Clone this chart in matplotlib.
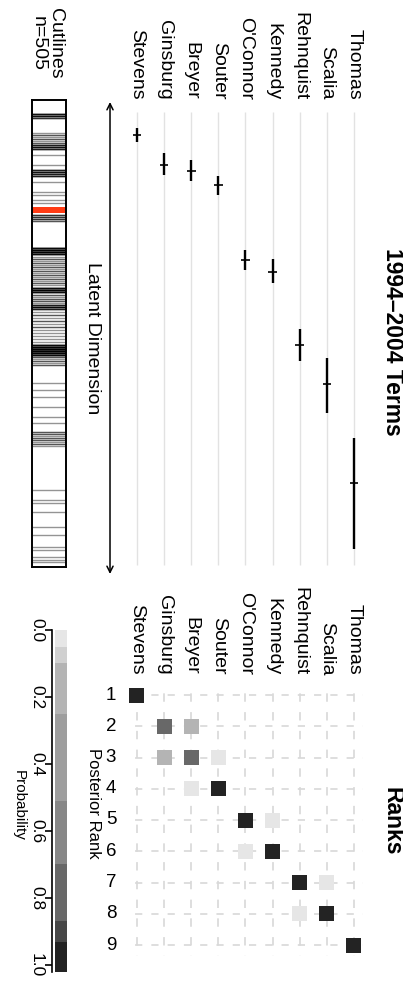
"""Ideal points and posterior rank panels for the 1994-2004 Supreme Court terms."""

import matplotlib

matplotlib.use("Agg", force=True)

import matplotlib.pyplot as plt
import numpy as np
from matplotlib.colors import BoundaryNorm, ListedColormap

plt.rcParams["font.family"] = ["Liberation Sans", "DejaVu Sans"]

W, H = 403, 984

# --- data -------------------------------------------------------------------
justices = ["Stevens", "Ginsburg", "Breyer", "Souter", "O'Connor",
            "Kennedy", "Rehnquist", "Scalia", "Thomas"]

ideal_mean = [-2.00, -1.70, -1.64, -1.50, -0.75, -0.63, 0.10, 0.49, 1.48]
ideal_lo = [-2.07, -1.82, -1.75, -1.59, -0.85, -0.76, -0.06, 0.23, 1.03]
ideal_hi = [-1.93, -1.60, -1.54, -1.40, -0.65, -0.52, 0.26, 0.78, 2.14]

cut_pos = [-2.21, -2.19, -2.17,
           -2.02, -2.00, -1.98, -1.96, -1.94, -1.92,
           -1.90, -1.88, -1.86,
           -1.80, -1.70,
           -1.65, -1.63, -1.61, -1.59,
           -1.53, -1.43, -1.40, -1.35, -1.32,
           -1.20, -1.18, -1.16, -1.14,
           -0.87, -0.85, -0.83, -0.81,
           -0.78, -0.76, -0.74, -0.72, -0.70, -0.68, -0.66, -0.64,
           -0.62, -0.60, -0.58, -0.56, -0.54, -0.52, -0.50,
           -0.47, -0.45, -0.43,
           -0.40, -0.38, -0.36, -0.34, -0.32,
           -0.30, -0.28, -0.26,
           -0.23, -0.20, -0.17, -0.14, -0.11, -0.08, -0.05, -0.02, 0.01, 0.04, 0.07,
           0.10, 0.12, 0.14, 0.16, 0.18, 0.20,
           0.22, 0.24, 0.26, 0.28, 0.30,
           0.48, 0.55, 0.62, 0.72, 0.82, 0.88,
           0.97, 0.99, 1.01, 1.03, 1.05, 1.07, 1.09, 1.11,
           1.55, 1.65, 1.68, 1.77, 1.92, 2.00, 2.12, 2.15, 2.22, 2.25, 2.27]
cut_count = [5, 5, 3,
             1, 2, 1, 2, 1, 2,
             4, 5, 4,
             1, 1,
             4, 5, 4, 4,
             1, 1, 1, 1, 1,
             3, 3, 3, 2,
             6, 8, 8, 6,
             1, 2, 1, 2, 1, 2, 1, 2,
             1, 2, 1, 2, 1, 2, 1,
             6, 8, 6,
             2, 1, 2, 2, 1,
             4, 6, 4,
             1, 2, 1, 2, 1, 2, 1, 1, 1, 1, 1,
             6, 8, 10, 10, 8, 6,
             2, 1, 2, 1, 2,
             1, 1, 1, 1, 1, 1,
             2, 2, 1, 2, 2, 1, 2, 1,
             1, 1, 1, 1, 1, 1, 1, 1, 1, 1, 1]
cut_highlight = -1.25
n_cutlines = 505

ranks = [1, 2, 3, 4, 5, 6, 7, 8, 9]
# rows: posterior rank 1..9, columns: justices in the order above
rank_prob = [
    [0.98, 0, 0, 0, 0, 0, 0, 0, 0],
    [0, 0.75, 0.20, 0, 0, 0, 0, 0, 0],
    [0, 0.20, 0.75, 0.03, 0, 0, 0, 0, 0],
    [0, 0, 0.03, 0.96, 0, 0, 0, 0, 0],
    [0, 0, 0, 0, 0.96, 0.03, 0, 0, 0],
    [0, 0, 0, 0, 0.03, 0.96, 0, 0, 0],
    [0, 0, 0, 0, 0, 0, 0.96, 0.03, 0],
    [0, 0, 0, 0, 0, 0, 0.03, 0.96, 0],
    [0, 0, 0, 0, 0, 0, 0, 0, 0.99],
]

prob_bounds = [0.0, 0.05, 0.10, 0.25, 0.51, 0.70, 0.87, 0.93, 1.02]
prob_colors = ["#e6e6e6", "#d0d0d0", "#b4b4b4", "#9e9e9e", "#878787",
               "#686868", "#474747", "#232323"]
prob_ticks = [0.0, 0.2, 0.4, 0.6, 0.8, 1.0]


def rect(x0, y0, x1, y1):
    """Axes rectangle from portrait pixel corners (top-left origin)."""
    return [x0 / W, 1 - y1 / H, (x1 - x0) / W, (y1 - y0) / H]


def fxy(x, y):
    return x / W, 1 - y / H


fig = plt.figure(figsize=(W / 100, H / 100), dpi=100)
xs = np.arange(len(justices))
xlim = (-1.364, 8.59)

# --- ideal point panel --------------------------------------------------------
ax = fig.add_axes(rect(100, 98, 370, 578))
ax.set_xlim(*xlim)
ax.set_ylim(2.43, -2.37)
ax.vlines(xs, -2.23, 2.30, color="#e2e2e2", lw=1.0, zorder=1)
ax.vlines(xs, ideal_lo, ideal_hi, color="black", lw=1.7, zorder=3)
ax.hlines(ideal_mean, xs - 0.16, xs + 0.16, color="black", lw=1.2, zorder=3)
ax.annotate("", xy=(-0.995, -2.33), xytext=(-0.995, 2.39),
            arrowprops=dict(arrowstyle="<->", lw=1.1, color="black",
                            mutation_scale=11, shrinkA=0, shrinkB=0))
for i, name in enumerate(justices):
    ax.text(i, -2.35, name, rotation=-90, ha="center", va="bottom", fontsize=14)
ax.axis("off")

fig.text(*fxy(92, 338), "Latent Dimension", rotation=-90, ha="center",
         va="center", fontsize=14)
fig.text(*fxy(392, 342), "1994\u20132004 Terms", rotation=-90, ha="center",
         va="center", fontsize=16.5, fontweight="bold")

# --- cutline strip ------------------------------------------------------------
cax_cut = fig.add_axes(rect(32, 100, 66, 567))
cax_cut.set_xlim(0, 1)
cax_cut.set_ylim(2.32, -2.35)
cax_cut.hlines(np.repeat(cut_pos, cut_count), 0, 1, color="black",
               alpha=0.42, lw=1.0)
cax_cut.axhspan(cut_highlight - 0.03, cut_highlight + 0.03, color="#ff3b14",
                lw=0)
cax_cut.set_xticks([])
cax_cut.set_yticks([])
for sp in cax_cut.spines.values():
    sp.set_linewidth(1.4)
fig.text(*fxy(47, 79), f"Cutlines\nn={n_cutlines}", rotation=-90,
         ha="center", va="bottom", multialignment="center", fontsize=14,
         linespacing=1.05)

# --- posterior rank panel -----------------------------------------------------
cmap = ListedColormap(prob_colors)
norm = BoundaryNorm(prob_bounds, cmap.N)

rx = fig.add_axes(rect(100, 680, 370, 962))
rx.set_xlim(*xlim)
rx.set_ylim(9.544, 0.52)

on_v, off_v = 7 * 0.72, 8.625 * 0.72
on_h, off_h = 6 * 0.72, 7.56 * 0.72
for x in xs:
    rx.plot([x, x], [0.612, 9.35], color="#d8d8d8", lw=1.2,
            linestyle=(on_v, (on_v, off_v)), zorder=1)
for r in ranks:
    rx.plot([-0.39, 8.35], [r, r], color="#d8d8d8", lw=1.2,
            linestyle=(on_h, (on_h, off_h)), zorder=1)

prob = np.array(rank_prob)
rr, jj = np.nonzero(prob)
rx.scatter(jj, np.array(ranks)[rr], c=prob[rr, jj], cmap=cmap, norm=norm,
           marker="s", s=(15 * 0.72) ** 2, linewidths=0, zorder=3)

for i, name in enumerate(justices):
    rx.text(i, 0.36, name, rotation=-90, ha="center", va="bottom", fontsize=14)
for r in ranks:
    rx.text(-0.96, r, str(r), ha="center", va="center", fontsize=13.5)
rx.axis("off")

fig.text(*fxy(93, 803), "Posterior Rank", rotation=-90, ha="center",
         va="center", fontsize=12)
fig.text(*fxy(392, 821), "Ranks", rotation=-90, ha="center", va="center",
         fontsize=16.5, fontweight="bold")

# --- probability legend ------------------------------------------------------
bar = fig.add_axes(rect(55, 630, 67, 972))
bar.set_xlim(0, 1)
bar.set_ylim(1.021, 0)
for lo, hi, col in zip(prob_bounds[:-1], prob_bounds[1:], prob_colors):
    bar.axhspan(lo, hi, color=col, lw=0)
for side in ("top", "right", "bottom"):
    bar.spines[side].set_visible(False)
bar.spines["left"].set_position(("outward", 2))
bar.spines["left"].set_linewidth(1.2)
bar.set_xticks([])
bar.set_yticks(prob_ticks)
bar.set_yticklabels([f"{t:.1f}" for t in prob_ticks], rotation=-90,
                    va="center", fontsize=12.5)
bar.tick_params(axis="y", length=5, width=1.2, pad=1)

fig.text(*fxy(19, 805), "Probability", rotation=-90, ha="center",
         va="center", fontsize=11)

fig.savefig("out.png", dpi=100)
plt.close(fig)
